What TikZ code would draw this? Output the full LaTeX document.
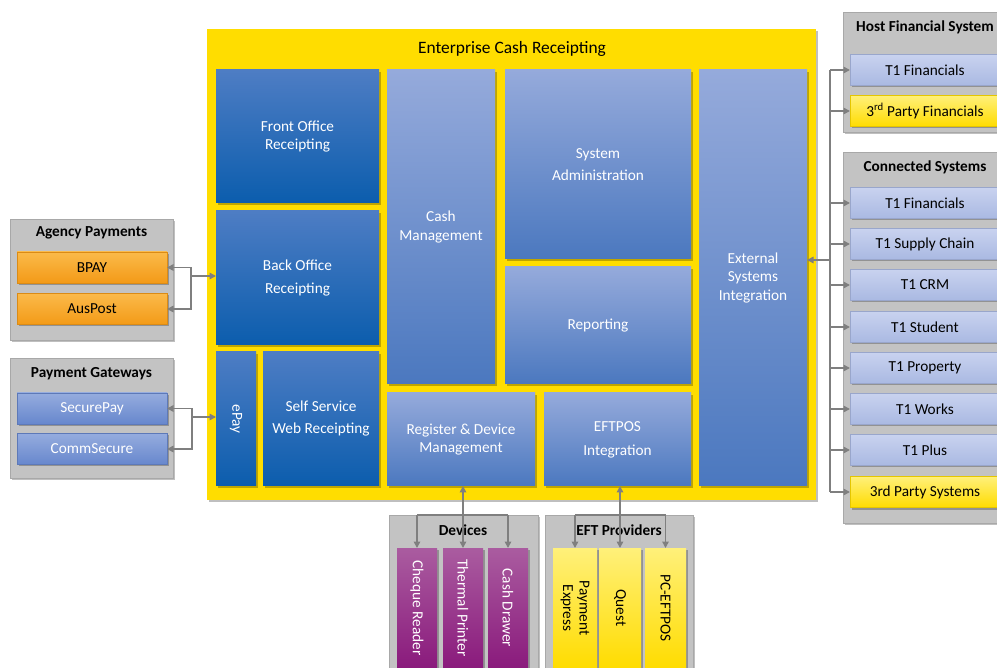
\documentclass[tikz,border=0pt]{standalone}
\usepackage{fontspec}
\usepackage{graphicx}
\setmainfont{Carlito}
\usetikzlibrary{arrows.meta,shadows}
\definecolor{ecy}{HTML}{FFDD00}
\definecolor{dbtop}{HTML}{4E7DC4}
\definecolor{dbbot}{HTML}{0B5DAD}
\definecolor{lbtop}{HTML}{95AADB}
\definecolor{lbbot}{HTML}{4B78BF}
\definecolor{gfill}{HTML}{C3C3C3}
\definecolor{gdraw}{HTML}{A8A8A8}
\definecolor{ittop}{HTML}{C8D2EF}
\definecolor{itbot}{HTML}{AAB9E2}
\definecolor{ortop}{HTML}{FBBA4A}
\definecolor{orbot}{HTML}{F39A17}
\definecolor{yltop}{HTML}{FFF07A}
\definecolor{ylbot}{HTML}{FFDC00}
\definecolor{pptop}{HTML}{AA5CA0}
\definecolor{ppbot}{HTML}{8A1A7C}
\definecolor{pgtop}{HTML}{95ACDE}
\definecolor{pgbot}{HTML}{6787CD}
\definecolor{arrc}{HTML}{7F7F7F}
\tikzset{
  base/.style={inner sep=0pt, outer sep=0pt, align=center, font=\fontsize{15.3}{18.5}\selectfont},
  shad/.style={drop shadow={shadow xshift=2pt, shadow yshift=-2pt, fill=black, opacity=0.25}},
  mainbox/.style={base, fill=ecy, shad},
  darkbox/.style={base, top color=dbtop, bottom color=dbbot, text=white, shad},
  lightbox/.style={base, top color=lbtop, bottom color=lbbot, text=white, shad},
  graybox/.style={base, fill=gfill, draw=gdraw, shad},
  gtitle/.style={base, font=\fontsize{15.3}{17}\selectfont\bfseries},
  itembox/.style={base, top color=ittop, bottom color=itbot, draw=itbot!90!black, minimum width=150, minimum height=31, shad},
  orbox/.style={base, top color=ortop, bottom color=orbot, draw=orbot!90!black, minimum width=150, minimum height=31, shad},
  ylbox/.style={base, top color=yltop, bottom color=ylbot, draw=ylbot!90!black, minimum width=150, minimum height=31, shad},
  pgbox/.style={base, top color=pgtop, bottom color=pgbot, draw=pgbot!90!black, text=white, minimum width=150, minimum height=31, shad},
  ppbox/.style={base, top color=pptop, bottom color=ppbot, text=white, minimum height=120, shad},
  yvbox/.style={base, top color=yltop, bottom color=ylbot, minimum height=120, shad},
  gline/.style={draw=arrc, line width=1.5pt},
  garr/.style={gline, -{Triangle[length=6.5pt,width=6.5pt]}},
  garrb/.style={gline, {Triangle[length=6.5pt,width=6.5pt]}-{Triangle[length=6.5pt,width=6.5pt]}}
}
\begin{document}
\begin{tikzpicture}[x=1pt,y=-1pt]
\clip (0,0) rectangle (997,668);
\fill[white] (0,0) rectangle (997,668);

% main container
\node[mainbox, minimum width=609, minimum height=471] (main) at (511.5,264.5) {};
\node[base, font=\fontsize{17.4}{20}\selectfont] (title) at (512,49) {Enterprise Cash Receipting};

\node[darkbox, minimum width=163, minimum height=133] (fo) at (297.5,136.5) {Front Office\\Receipting};
\node[darkbox, minimum width=163, minimum height=134] (bo) at (297.5,278) {Back Office\\[4.5pt]Receipting};
\node[darkbox, minimum width=40, minimum height=134] (epay) at (236,419) {\rotatebox{-90}{ePay}};
\node[darkbox, minimum width=116, minimum height=134] (ss) at (321,419) {Self Service\\[3.5pt]Web Receipting};
\node[lightbox, minimum width=108, minimum height=314] (cash) at (441,227) {Cash\\Management};
\node[lightbox, minimum width=186, minimum height=189] (sys) at (598,164.5) {System\\[3.5pt]Administration};
\node[lightbox, minimum width=186, minimum height=117] (rep) at (598,325.5) {Reporting};
\node[lightbox, minimum width=148, minimum height=93] (reg) at (461,439.5) {Register \& Device\\Management};
\node[lightbox, minimum width=147, minimum height=93] (eft) at (617.5,439.5) {EFTPOS\\[5.5pt]Integration};
\node[lightbox, minimum width=108, minimum height=416] (ext) at (753,278) {External\\Systems\\Integration};

% left groups
\node[graybox, minimum width=163, minimum height=121] (ag) at (91.5,279.5) {};
\node[gtitle] (agt) at (91.5,233) {Agency Payments};
\node[orbox] (bpay) at (92,267.5) {BPAY};
\node[orbox] (aus) at (92,309) {AusPost};

\node[graybox, minimum width=163, minimum height=120] (pg) at (91.5,418) {};
\node[gtitle] (pgt) at (91.5,374) {Payment Gateways};
\node[pgbox] (sp) at (92,408.5) {SecurePay};
\node[pgbox] (cs) at (92,449) {CommSecure};

% right groups
\node[graybox, minimum width=163, minimum height=120] (hfs) at (924.5,72) {};
\node[gtitle] (hfst) at (925,27) {Host Financial System};
\node[itembox] (hf1) at (925,70) {T1 Financials};
\node[ylbox] (hf2) at (925,111) {3\textsuperscript{rd} Party Financials};

\node[graybox, minimum width=163, minimum height=371] (csys) at (924.5,337.5) {};
\node[gtitle] (csyst) at (925,167) {Connected Systems};
\node[itembox] (c1) at (925,203) {T1 Financials};
\node[itembox] (c2) at (925,244) {T1 Supply Chain};
\node[itembox] (c3) at (925,285) {T1 CRM};
\node[itembox] (c4) at (925,327) {T1 Student};
\node[itembox] (c5) at (925,368) {T1 Property};
\node[itembox] (c6) at (925,409) {T1 Works};
\node[itembox] (c7) at (925,450) {T1 Plus};
\node[ylbox] (c8) at (925,492) {3rd Party Systems};

% bottom groups
\node[graybox, minimum width=149, minimum height=170] (dev) at (463.5,600) {};
\node[gtitle] (devt) at (463,530) {Devices};
\node[ppbox, minimum width=40] (chq) at (417,608) {\rotatebox{-90}{Cheque Reader}};
\node[ppbox, minimum width=40] (thp) at (463,608) {\rotatebox{-90}{Thermal Printer}};
\node[ppbox, minimum width=40] (cdr) at (508,608) {\rotatebox{-90}{Cash Drawer}};

\node[graybox, minimum width=148, minimum height=170] (eftp) at (619,600) {};
\node[gtitle] (eftpt) at (619,530) {EFT Providers};
\node[yvbox, minimum width=44] (pe) at (575,608) {\rotatebox{-90}{\begin{tabular}{@{}c@{}}Payment\\[-2pt]Express\end{tabular}}};
\node[yvbox, minimum width=42] (qu) at (620,608) {\rotatebox{-90}{Quest}};
\node[yvbox, minimum width=41] (pc) at (665.5,608) {\rotatebox{-90}{PC-EFTPOS}};

% connectors left
\coordinate (agj) at (191,276);
\draw[garrb] (bpay.east) -| (agj) |- (aus.east);
\draw[garr] (agj) -- (agj -| bo.west);
\coordinate (pgj) at (192,417);
\draw[garrb] (sp.east) -| (pgj) |- (cs.east);
\draw[garr] (pgj) -- (pgj -| epay.west);

% connectors right
\coordinate (rj) at (830,260);
\draw[gline] (rj |- hf1.west) -- (rj |- c8.west);
\foreach \n in {hf1,hf2,c1,c2,c3,c4,c5,c6,c7,c8}{
  \draw[garr] (rj |- \n.west) -- (\n.west);
}
\draw[garr] (rj) -- (rj -| ext.east);

% connectors bottom
\coordinate (dj) at (463,515);
\draw[gline] (dj -| chq.north) -- (dj -| cdr.north);
\draw[garr] (dj -| chq.north) -- (chq.north);
\draw[garr] (dj -| cdr.north) -- (cdr.north);
\draw[garrb] (thp.north |- reg.south) -- (thp.north);

\coordinate (ej) at (620,515);
\draw[gline] (ej -| pe.north) -- (ej -| pc.north);
\draw[garr] (ej -| pe.north) -- (pe.north);
\draw[garr] (ej -| pc.north) -- (pc.north);
\draw[garrb] (qu.north |- eft.south) -- (qu.north);
\end{tikzpicture}
\end{document}
